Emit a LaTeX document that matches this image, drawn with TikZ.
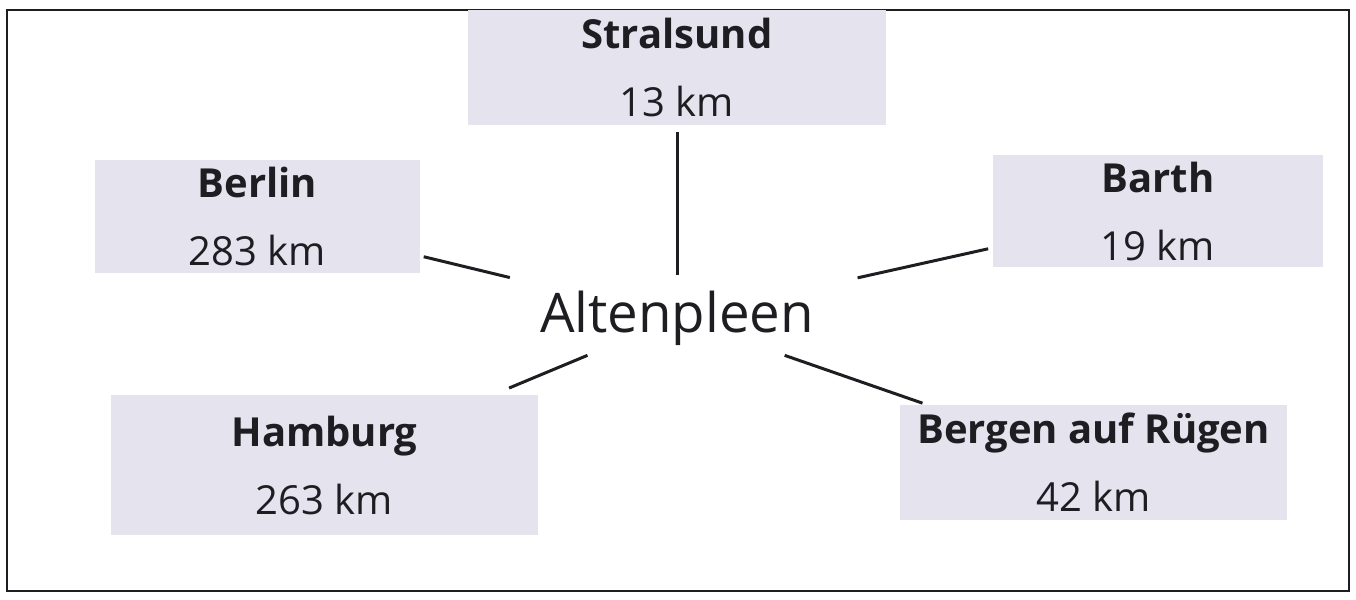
\documentclass[tikz,border=0pt]{standalone}
\usepackage{fontspec}
\setmainfont{Open Sans}
\usetikzlibrary{calc}
\definecolor{boxfill}{RGB}{228,227,238}
\definecolor{ink}{RGB}{30,30,34}
\tikzset{
	city/.style={fill=boxfill, inner sep=0pt, align=center, text=ink, font=\fontsize{20pt}{34pt}\selectfont},
	link/.style={line width=1.5pt, color=ink},
}
\newcommand{\cityname}[1]{{\fontsize{20pt}{34pt}\selectfont\bfseries #1}}

\begin{document}
\begin{tikzpicture}[x=0.5pt, y=-0.5pt]
		%%%%% START %%%%%
		
		\useasboundingbox (0, 0) rectangle (1356, 600);
		\draw[line width=1.3pt, color=ink] (7, 10) rectangle (1349, 591);
		
		\node[city, minimum width=209pt, minimum height=57.5pt] (stralsund) at (677, 67.5) {\cityname{Stralsund}\\13 km};
		\node[city, minimum width=162.5pt, minimum height=56.5pt] (berlin) at (257.5, 216.5) {\cityname{Berlin}\\283 km};
		\node[city, minimum width=165pt, minimum height=56pt] (barth) at (1158, 211) {\cityname{Barth}\\19 km};
		\node[city, minimum width=213.5pt, minimum height=70pt] (hamburg) at (324.5, 465) {\cityname{Hamburg}\\263 km};
		\node[city, minimum width=193.5pt, minimum height=57.5pt] (bergen) at (1093.5, 462.5) {\cityname{Bergen auf Rügen}\\42 km};
		
		\node[inner sep=0pt, text=ink, font=\fontsize{27.3pt}{30pt}\selectfont] (alt) at (677, 318) {Altenpleen};
		
		\draw[link, shorten <=21.5pt, shorten >=32pt] (alt.center) -- (stralsund.center);
		\draw[link, shorten <=86pt, shorten >=85.5pt] (alt.center) -- (berlin.center);
		\draw[link, shorten <=92.5pt, shorten >=87pt] (alt.center) -- (barth.center);
		\draw[link, shorten <=48.5pt, shorten >=100pt] (alt.center) -- (hamburg.center);
		\draw[link, shorten <=57pt, shorten >=90.5pt] (alt.center) -- (bergen.center);
		
		%%%%% END %%%%%
\end{tikzpicture}
\end{document}
